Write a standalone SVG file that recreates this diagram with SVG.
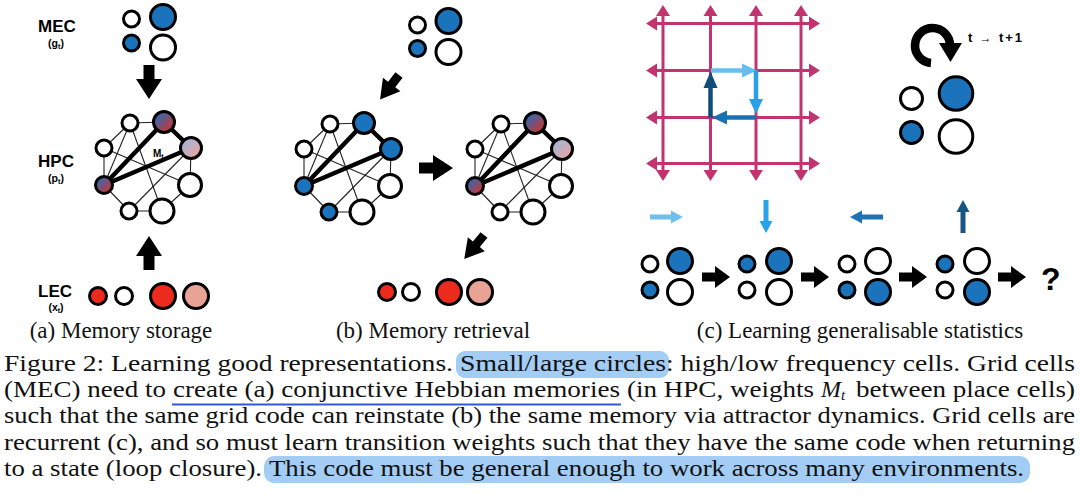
<svg xmlns="http://www.w3.org/2000/svg" width="1080" height="502" viewBox="0 0 1080 502">
<defs>
<linearGradient id="gA" x1="0" y1="0" x2="1" y2="1"><stop offset="0.15" stop-color="#2b6cb4"/><stop offset="0.9" stop-color="#d8302b"/></linearGradient>
<linearGradient id="gB" x1="0" y1="0" x2="1" y2="1"><stop offset="0.1" stop-color="#9cb8dc"/><stop offset="0.9" stop-color="#eda39c"/></linearGradient>
<path id="blk" d="M0,-5.5 H14 V-13 L34,0 L14,13 V5.5 H0 Z"/>
<path id="blkS" d="M0,-4.5 H12 V-11 L31,0 L12,11 V4.5 H0 Z"/>
<path id="blkC" d="M0,-4.5 H13 V-11 L28,0 L13,11 V4.5 H0 Z"/>
<path id="dirA" d="M0,-2.5 H21 V-6.5 L33,0 L21,6.5 V2.5 H0 Z"/>
</defs>
<style>
.o{fill:#fff;stroke:#000;stroke-width:3}
.b{fill:#1b74bb;stroke:#000;stroke-width:3}
.r{fill:#ec2b1e;stroke:#000;stroke-width:3}
.p{fill:#e9a394;stroke:#000;stroke-width:3}
.ga{fill:url(#gA);stroke:#000;stroke-width:3}
.gb{fill:url(#gB);stroke:#000;stroke-width:3}
.thin{stroke:#222;stroke-width:1.1}
.thick{stroke:#000;stroke-width:4.5;stroke-linecap:round}
.lab{font-family:"Liberation Sans",Arial,sans-serif;font-weight:bold;fill:#000}
.sub{font-family:"Liberation Serif","Times New Roman",serif;font-size:23px;fill:#111}
.body{font-family:"Liberation Serif","Times New Roman",serif;font-size:24px;fill:#111}
.grid{stroke:#c2346f;stroke-width:3}
.gh{fill:#c2346f}
.hl{fill:#a3cdf4}
</style>
<rect width="1080" height="502" fill="#fff"/>

<!-- ===== connectors ===== -->
<g id="connectors">
  <g id="edges-a">
    <line class="thin" x1="130" y1="123" x2="164" y2="122"/>
    <line class="thin" x1="130" y1="123" x2="104" y2="148"/>
    <line class="thin" x1="104" y1="148" x2="104" y2="185"/>
    <line class="thin" x1="104" y1="185" x2="129" y2="211"/>
    <line class="thin" x1="129" y1="211" x2="162" y2="211"/>
    <line class="thin" x1="162" y1="211" x2="190" y2="185"/>
    <line class="thin" x1="190" y1="185" x2="191" y2="148"/>
    <line class="thin" x1="130" y1="123" x2="104" y2="185"/>
    <line class="thin" x1="130" y1="123" x2="162" y2="211"/>
    <line class="thin" x1="104" y1="148" x2="190" y2="185"/>
    <line class="thin" x1="129" y1="211" x2="191" y2="148"/>
    <line class="thick" x1="104" y1="185" x2="164" y2="122"/>
    <line class="thick" x1="104" y1="185" x2="191" y2="148"/>
    <line class="thick" x1="164" y1="122" x2="191" y2="148"/>
  </g>
  <g id="edges-b1" transform="translate(200,1)">
    <line class="thin" x1="130" y1="123" x2="164" y2="122"/>
    <line class="thin" x1="130" y1="123" x2="104" y2="148"/>
    <line class="thin" x1="104" y1="148" x2="104" y2="185"/>
    <line class="thin" x1="104" y1="185" x2="129" y2="211"/>
    <line class="thin" x1="129" y1="211" x2="162" y2="211"/>
    <line class="thin" x1="162" y1="211" x2="190" y2="185"/>
    <line class="thin" x1="190" y1="185" x2="191" y2="148"/>
    <line class="thin" x1="130" y1="123" x2="104" y2="185"/>
    <line class="thin" x1="130" y1="123" x2="162" y2="211"/>
    <line class="thin" x1="104" y1="148" x2="190" y2="185"/>
    <line class="thin" x1="129" y1="211" x2="191" y2="148"/>
    <line class="thick" x1="104" y1="185" x2="164" y2="122"/>
    <line class="thick" x1="104" y1="185" x2="191" y2="148"/>
    <line class="thick" x1="164" y1="122" x2="191" y2="148"/>
  </g>
  <g id="edges-b2" transform="translate(371,1)">
    <line class="thin" x1="130" y1="123" x2="164" y2="122"/>
    <line class="thin" x1="130" y1="123" x2="104" y2="148"/>
    <line class="thin" x1="104" y1="148" x2="104" y2="185"/>
    <line class="thin" x1="104" y1="185" x2="129" y2="211"/>
    <line class="thin" x1="129" y1="211" x2="162" y2="211"/>
    <line class="thin" x1="162" y1="211" x2="190" y2="185"/>
    <line class="thin" x1="190" y1="185" x2="191" y2="148"/>
    <line class="thin" x1="130" y1="123" x2="104" y2="185"/>
    <line class="thin" x1="130" y1="123" x2="162" y2="211"/>
    <line class="thin" x1="104" y1="148" x2="190" y2="185"/>
    <line class="thin" x1="129" y1="211" x2="191" y2="148"/>
    <line class="thick" x1="104" y1="185" x2="164" y2="122"/>
    <line class="thick" x1="104" y1="185" x2="191" y2="148"/>
    <line class="thick" x1="164" y1="122" x2="191" y2="148"/>
  </g>
  <!-- block arrows -->
  <use href="#blk" transform="translate(149,65) rotate(90)"/>
  <use href="#blk" transform="translate(149,270) rotate(-90)"/>
  <use href="#blkS" transform="translate(399,75) rotate(127.6)"/>
  <use href="#blk" transform="translate(419,168)"/>
  <use href="#blkS" transform="translate(484,235) rotate(129.6)"/>
  <use href="#blkC" transform="translate(702,277)"/>
  <use href="#blkC" transform="translate(801,277)"/>
  <use href="#blkC" transform="translate(899,277)"/>
  <use href="#blkC" transform="translate(998,277)"/>
  <!-- direction arrows -->
  <use href="#dirA" fill="#6fbfee" transform="translate(650,217)"/>
  <use href="#dirA" fill="#28a2e8" transform="translate(766,200) rotate(90)"/>
  <use href="#dirA" fill="#1f73b4" transform="translate(883,217) rotate(180)"/>
  <use href="#dirA" fill="#165684" transform="translate(963,233) rotate(-90)"/>
  <!-- recurrence arrow -->
  <path d="M931,63 A17.5,17.5 0 1 1 950,45" fill="none" stroke="#000" stroke-width="8.6"/>
  <polygon points="939,43 962,43 950.5,62" fill="#000"/>
</g>

<!-- ===== panel (a) ===== -->
<g id="label-mec">
  <text class="lab" x="57" y="32" font-size="17" text-anchor="middle">MEC</text>
  <text class="lab" x="56" y="47" font-size="10.5" text-anchor="middle">(g<tspan font-size="7" dy="1.5">t</tspan><tspan dy="-1.5">)</tspan></text>
</g>
<g id="label-hpc">
  <text class="lab" x="56" y="167" font-size="17" text-anchor="middle">HPC</text>
  <text class="lab" x="56" y="182" font-size="10.5" text-anchor="middle">(p<tspan font-size="7" dy="1.5">t</tspan><tspan dy="-1.5">)</tspan></text>
</g>
<g id="label-lec">
  <text class="lab" x="55" y="297" font-size="17" text-anchor="middle">LEC</text>
  <text class="lab" x="56" y="311" font-size="10.5" text-anchor="middle">(x<tspan font-size="7" dy="1.5">t</tspan><tspan dy="-1.5">)</tspan></text>
</g>
<g id="a-mec">
  <circle class="o" cx="131.5" cy="19" r="8"/>
  <circle class="b" cx="163" cy="17" r="12.5"/>
  <circle class="b" cx="131.5" cy="43" r="8"/>
  <circle class="o" cx="163" cy="47.5" r="12.5"/>
</g>
<g id="a-hpc">
  <circle class="o" cx="130" cy="123" r="8"/>
  <circle class="ga" cx="164" cy="122" r="10.5"/>
  <circle class="gb" cx="191" cy="148" r="10.5"/>
  <circle class="o" cx="104" cy="148" r="8"/>
  <circle class="ga" cx="104" cy="185" r="8.5"/>
  <circle class="o" cx="190" cy="185" r="11.5"/>
  <circle class="o" cx="129" cy="211" r="8"/>
  <circle class="o" cx="162" cy="211" r="12"/>
  <text class="lab" x="153" y="157" font-size="10">M<tspan font-size="7" dy="1.5">t</tspan></text>
</g>
<g id="a-lec">
  <circle class="r" cx="98" cy="296" r="8.5"/>
  <circle class="o" cx="124" cy="296" r="8.5"/>
  <circle class="r" cx="163" cy="296" r="12.5"/>
  <circle class="p" cx="196" cy="296" r="12.5"/>
</g>
<text class="sub" x="121" y="338" text-anchor="middle">(a) Memory storage</text>

<!-- ===== panel (b) ===== -->
<g id="b-mec">
  <circle class="o" cx="417.5" cy="25" r="8"/>
  <circle class="b" cx="448.5" cy="21" r="12.5"/>
  <circle class="b" cx="417.5" cy="48.5" r="8"/>
  <circle class="o" cx="448.5" cy="52" r="12.5"/>
</g>
<g id="b-hpc1" transform="translate(200,1)">
  <circle class="o" cx="130" cy="123" r="8"/>
  <circle class="b" cx="164" cy="122" r="10.5"/>
  <circle class="b" cx="191" cy="148" r="10.5"/>
  <circle class="o" cx="104" cy="148" r="8"/>
  <circle class="b" cx="104" cy="185" r="8.5"/>
  <circle class="o" cx="190" cy="185" r="11.5"/>
  <circle class="b" cx="129" cy="211" r="8"/>
  <circle class="o" cx="162" cy="211" r="12"/>
</g>
<g id="b-hpc2" transform="translate(371,1)">
  <circle class="o" cx="130" cy="123" r="8"/>
  <circle class="ga" cx="164" cy="122" r="10.5"/>
  <circle class="gb" cx="191" cy="148" r="10.5"/>
  <circle class="o" cx="104" cy="148" r="8"/>
  <circle class="ga" cx="104" cy="185" r="8.5"/>
  <circle class="o" cx="190" cy="185" r="11.5"/>
  <circle class="o" cx="129" cy="211" r="8"/>
  <circle class="o" cx="162" cy="211" r="12"/>
</g>
<g id="b-lec">
  <circle class="r" cx="387" cy="292" r="8.5"/>
  <circle class="o" cx="411" cy="292" r="8.5"/>
  <circle class="r" cx="449" cy="292" r="12.5"/>
  <circle class="p" cx="480" cy="292" r="12.5"/>
</g>
<text class="sub" x="433" y="338" text-anchor="middle">(b) Memory retrieval</text>

<!-- ===== panel (c) ===== -->
<g id="c-grid">
  <line class="grid" x1="663" y1="9" x2="663" y2="178"/>
  <line class="grid" x1="710.5" y1="9" x2="710.5" y2="178"/>
  <line class="grid" x1="756" y1="9" x2="756" y2="178"/>
  <line class="grid" x1="801" y1="9" x2="801" y2="178"/>
  <line class="grid" x1="649" y1="23.5" x2="817" y2="23.5"/>
  <line class="grid" x1="649" y1="70.5" x2="817" y2="70.5"/>
  <line class="grid" x1="649" y1="117.5" x2="817" y2="117.5"/>
  <line class="grid" x1="649" y1="163.5" x2="817" y2="163.5"/>
  <g class="gh">
    <polygon points="663,5 656,16 670,16"/><polygon points="710.5,5 703.5,16 717.5,16"/><polygon points="756,5 749,16 763,16"/><polygon points="801,5 794,16 808,16"/>
    <polygon points="663,181 656,170 670,170"/><polygon points="710.5,181 703.5,170 717.5,170"/><polygon points="756,181 749,170 763,170"/><polygon points="801,181 794,170 808,170"/>
    <polygon points="646,23.5 657,16.5 657,30.5"/><polygon points="646,70.5 657,63.5 657,77.5"/><polygon points="646,117.5 657,110.5 657,124.5"/><polygon points="646,163.5 657,156.5 657,170.5"/>
    <polygon points="820,23.5 809,16.5 809,30.5"/><polygon points="820,70.5 809,63.5 809,77.5"/><polygon points="820,117.5 809,110.5 809,124.5"/><polygon points="820,163.5 809,156.5 809,170.5"/>
  </g>
</g>
<g id="c-loop">
  <line x1="711" y1="70.5" x2="744" y2="70.5" stroke="#6abdef" stroke-width="4.5"/>
  <polygon points="757,70.5 742,63.5 742,77.5" fill="#6abdef"/>
  <line x1="756" y1="70.5" x2="756" y2="101" stroke="#27a2ea" stroke-width="4.5"/>
  <polygon points="756,114 749,99 763,99" fill="#27a2ea"/>
  <line x1="756" y1="117.5" x2="725" y2="117.5" stroke="#1d70b0" stroke-width="4.5"/>
  <polygon points="712,117.5 727,110.5 727,124.5" fill="#1d70b0"/>
  <line x1="710.5" y1="117.5" x2="710.5" y2="86" stroke="#124c7a" stroke-width="4.5"/>
  <polygon points="710.5,71.5 703.5,88 717.5,88" fill="#124c7a"/>
</g>
<g id="c-time">
  <text class="lab" x="968" y="42" font-size="13" textLength="54" lengthAdjust="spacing">t<tspan font-weight="normal" font-size="12"> → </tspan>t+1</text>
</g>
<g id="c-state">
  <circle class="o" cx="911.5" cy="98.5" r="11"/>
  <circle class="b" cx="956" cy="93.5" r="16.8"/>
  <circle class="b" cx="911.5" cy="132.5" r="11"/>
  <circle class="o" cx="956" cy="136.5" r="16.8"/>
</g>
<g id="c-s1">
  <circle class="o" cx="650" cy="264" r="8"/>
  <circle class="b" cx="680" cy="261" r="12.5"/>
  <circle class="b" cx="650" cy="290" r="8"/>
  <circle class="o" cx="680" cy="292" r="12.5"/>
</g>
<g id="c-s2">
  <circle class="b" cx="747" cy="264" r="8"/>
  <circle class="b" cx="779" cy="261" r="12.5"/>
  <circle class="o" cx="747" cy="290" r="8"/>
  <circle class="o" cx="779" cy="292" r="12.5"/>
</g>
<g id="c-s3">
  <circle class="o" cx="847" cy="264" r="8"/>
  <circle class="o" cx="878" cy="261" r="12.5"/>
  <circle class="b" cx="847" cy="290" r="8"/>
  <circle class="b" cx="878" cy="292" r="12.5"/>
</g>
<g id="c-s4">
  <circle class="b" cx="945" cy="264" r="8"/>
  <circle class="o" cx="977" cy="261" r="12.5"/>
  <circle class="o" cx="945" cy="290" r="8"/>
  <circle class="b" cx="977" cy="292" r="12.5"/>
</g>
<text class="lab" x="1041" y="290" font-size="32">?</text>
<text class="sub" x="860" y="338" text-anchor="middle">(c) Learning generalisable statistics</text>

<!-- ===== caption ===== -->
<g id="caption">
  <rect class="hl" x="456" y="351" width="213" height="27" rx="9"/>
  <rect class="hl" x="264" y="456" width="766" height="27" rx="10"/>
  <line x1="172" y1="404.5" x2="621" y2="404.5" stroke="#3559cf" stroke-width="2"/>
  <text class="body" x="4" y="370.5" textLength="449" lengthAdjust="spacingAndGlyphs">Figure 2: Learning good representations.</text>
  <text class="body" x="460" y="370.5" textLength="206" lengthAdjust="spacingAndGlyphs">Small/large circles</text>
  <text class="body" x="666" y="370.5" textLength="409" lengthAdjust="spacingAndGlyphs">: high/low frequency cells. Grid cells</text>
  <text class="body" x="4" y="397" textLength="162" lengthAdjust="spacingAndGlyphs">(MEC) need to</text>
  <text class="body" x="173" y="397" textLength="447" lengthAdjust="spacingAndGlyphs">create (a) conjunctive Hebbian memories</text>
  <text class="body" x="627" y="397" textLength="187" lengthAdjust="spacingAndGlyphs">(in HPC, weights</text>
  <text class="body" x="821" y="397" font-style="italic">M<tspan font-size="15" dy="3">t</tspan></text>
  <text class="body" x="856" y="397" textLength="219" lengthAdjust="spacingAndGlyphs">between place cells)</text>
  <text class="body" x="4" y="423.3" textLength="1071" lengthAdjust="spacingAndGlyphs">such that the same grid code can reinstate (b) the same memory via attractor dynamics. Grid cells are</text>
  <text class="body" x="4" y="449.7" textLength="1071" lengthAdjust="spacingAndGlyphs">recurrent (c), and so must learn transition weights such that they have the same code when returning</text>
  <text class="body" x="4" y="476" textLength="258" lengthAdjust="spacingAndGlyphs">to a state (loop closure).</text>
  <text class="body" x="269" y="476" textLength="755" lengthAdjust="spacingAndGlyphs">This code must be general enough to work across many environments.</text>
</g>
</svg>
